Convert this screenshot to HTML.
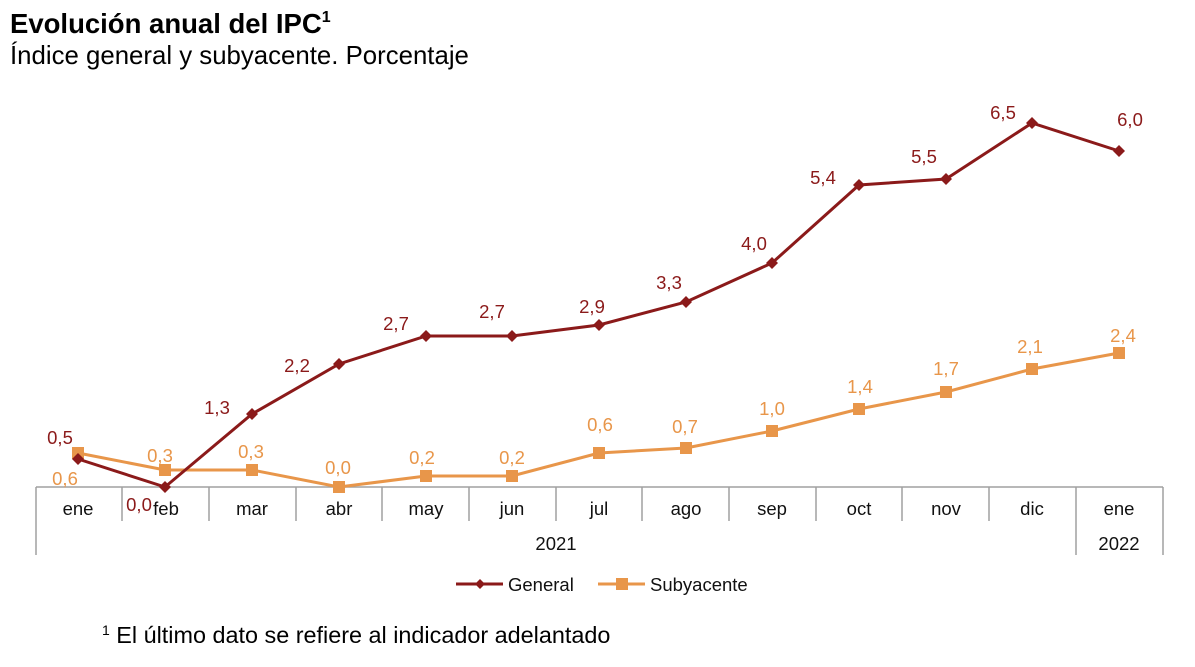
<!DOCTYPE html>
<html><head><meta charset="utf-8"><style>
body{margin:0;background:#fff;}
svg{display:block;font-family:"Liberation Sans",Arial,sans-serif;}
</style></head><body>
<svg width="1195" height="667" viewBox="0 0 1195 667" xmlns="http://www.w3.org/2000/svg">
<text x="10" y="33" font-size="27.5" font-weight="bold" fill="#000">Evolución anual del IPC<tspan font-size="16" dy="-11">1</tspan></text>
<text x="10" y="64" font-size="25.8" fill="#000">Índice general y subyacente. Porcentaje</text>
<g stroke="#a0a0a0" stroke-width="1.5" fill="none">
<line x1="36" y1="487" x2="1163" y2="487"/>
<line x1="36" y1="487" x2="36" y2="555"/>
<line x1="1163" y1="487" x2="1163" y2="555"/>
<line x1="1076" y1="487" x2="1076" y2="555"/>
<line x1="122" y1="487" x2="122" y2="521"/><line x1="209" y1="487" x2="209" y2="521"/>
<line x1="296" y1="487" x2="296" y2="521"/><line x1="382" y1="487" x2="382" y2="521"/>
<line x1="469" y1="487" x2="469" y2="521"/><line x1="556" y1="487" x2="556" y2="521"/>
<line x1="642" y1="487" x2="642" y2="521"/><line x1="729" y1="487" x2="729" y2="521"/>
<line x1="816" y1="487" x2="816" y2="521"/><line x1="902" y1="487" x2="902" y2="521"/>
<line x1="989" y1="487" x2="989" y2="521"/>
</g>
<g font-size="18.5" fill="#111" text-anchor="middle">
<text x="78" y="515">ene</text><text x="166" y="515">feb</text><text x="252" y="515">mar</text>
<text x="339" y="515">abr</text><text x="426" y="515">may</text><text x="512" y="515">jun</text>
<text x="599" y="515">jul</text><text x="686" y="515">ago</text><text x="772" y="515">sep</text>
<text x="859" y="515">oct</text><text x="946" y="515">nov</text><text x="1032" y="515">dic</text>
<text x="1119" y="515">ene</text>
<text x="556" y="550">2021</text><text x="1119" y="550">2022</text>
</g>
<polyline fill="none" stroke="#e8964a" stroke-width="3" points="78,453 165,470 252,470 339,487 426,476 512,476 599,453 686,448 772,431 859,409 946,392 1032,369 1119,353"/>
<g fill="#e8964a">
<rect x="72" y="447" width="12" height="12"/><rect x="159" y="464" width="12" height="12"/><rect x="246" y="464" width="12" height="12"/>
<rect x="333" y="481" width="12" height="12"/><rect x="420" y="470" width="12" height="12"/><rect x="506" y="470" width="12" height="12"/>
<rect x="593" y="447" width="12" height="12"/><rect x="680" y="442" width="12" height="12"/><rect x="766" y="425" width="12" height="12"/>
<rect x="853" y="403" width="12" height="12"/><rect x="940" y="386" width="12" height="12"/><rect x="1026" y="363" width="12" height="12"/>
<rect x="1113" y="347" width="12" height="12"/>
</g>
<polyline fill="none" stroke="#8b1a1a" stroke-width="3" points="78,459 165,487 252,414 339,364 426,336 512,336 599,325 686,302 772,263 859,185 946,179 1032,123 1119,151"/>
<g fill="#8b1a1a">
<path d="M78,453l6,6-6,6-6-6z"/><path d="M165,481l6,6-6,6-6-6z"/><path d="M252,408l6,6-6,6-6-6z"/>
<path d="M339,358l6,6-6,6-6-6z"/><path d="M426,330l6,6-6,6-6-6z"/><path d="M512,330l6,6-6,6-6-6z"/>
<path d="M599,319l6,6-6,6-6-6z"/><path d="M686,296l6,6-6,6-6-6z"/><path d="M772,257l6,6-6,6-6-6z"/>
<path d="M859,179l6,6-6,6-6-6z"/><path d="M946,173l6,6-6,6-6-6z"/><path d="M1032,117l6,6-6,6-6-6z"/>
<path d="M1119,145l6,6-6,6-6-6z"/>
</g>
<g font-size="18.5" fill="#8b1a1a" text-anchor="middle">
<text x="60" y="444">0,5</text><text x="139" y="511">0,0</text><text x="217" y="414">1,3</text>
<text x="297" y="372">2,2</text><text x="396" y="330">2,7</text><text x="492" y="318">2,7</text>
<text x="592" y="313">2,9</text><text x="669" y="289">3,3</text><text x="754" y="250">4,0</text>
<text x="823" y="184">5,4</text><text x="924" y="163">5,5</text><text x="1003" y="119">6,5</text>
<text x="1130" y="126">6,0</text>
</g>
<g font-size="18.5" fill="#e8964a" text-anchor="middle">
<text x="65" y="485">0,6</text><text x="160" y="462">0,3</text><text x="251" y="458">0,3</text>
<text x="338" y="474">0,0</text><text x="422" y="464">0,2</text><text x="512" y="464">0,2</text>
<text x="600" y="431">0,6</text><text x="685" y="433">0,7</text><text x="772" y="415">1,0</text>
<text x="860" y="393">1,4</text><text x="946" y="375">1,7</text><text x="1030" y="353">2,1</text>
<text x="1123" y="342">2,4</text>
</g>
<line x1="456" y1="584" x2="503" y2="584" stroke="#8b1a1a" stroke-width="3"/>
<path d="M480,579l5,5-5,5-5-5z" fill="#8b1a1a"/>
<text x="508" y="591" font-size="18.5" fill="#111">General</text>
<line x1="598" y1="584" x2="645" y2="584" stroke="#e8964a" stroke-width="3"/>
<rect x="616" y="578" width="12" height="12" fill="#e8964a"/>
<text x="650" y="591" font-size="18.5" fill="#111">Subyacente</text>
<text x="102" y="643" font-size="23.4" fill="#000"><tspan font-size="14" dy="-8">1</tspan><tspan dy="8"> El último dato se refiere al indicador adelantado</tspan></text>
</svg>
</body></html>
